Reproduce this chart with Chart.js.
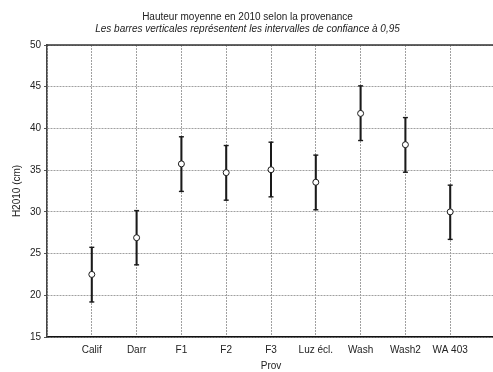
<!DOCTYPE html>
<html>
<head>
<meta charset="utf-8">
<script src="https://cdn.jsdelivr.net/npm/chart.js@4/dist/chart.umd.min.js"></script>
<style>
  html, body { margin: 0; padding: 0; background: #fff; overflow: hidden; }
  #wrap { width: 493px; height: 372px; overflow: hidden; }
</style>
</head>
<body>
<div id="wrap"><canvas id="c" width="495" height="372"></canvas></div>
<script>
// Mean height in 2010 per provenance, with 95% confidence limits
const categories = ['Calif', 'Darr', 'F1', 'F2', 'F3', 'Luz écl.', 'Wash', 'Wash2', 'WA 403'];
const means      = [22.5, 26.9, 35.75, 34.7, 35.05, 33.55, 41.8, 38.05, 30.0];
const lowerCI    = [19.2, 23.65, 32.45, 31.4, 31.8, 30.25, 38.55, 34.75, 26.7];
const upperCI    = [25.75, 30.15, 39.0, 37.95, 38.35, 36.8, 45.1, 41.3, 33.2];
const yTicks     = [15, 20, 25, 30, 35, 40, 45, 50];

const FONT = 'Liberation Sans, Arial, sans-serif';
Chart.defaults.font.family = FONT;
Chart.defaults.font.size = 10;
Chart.defaults.color = '#222';

const gridDash = [2, 1];

// outer frame line along the top of the plotting area
const frameTop = {
  id: 'frameTop',
  afterDraw(chart) {
    const { ctx, chartArea: a } = chart;
    ctx.save();
    ctx.strokeStyle = '#333';
    ctx.lineWidth = 1.5;
    ctx.beginPath();
    ctx.moveTo(a.left, a.top);
    ctx.lineTo(a.right, a.top);
    ctx.stroke();
    ctx.restore();
  }
};

new Chart(document.getElementById('c'), {
  data: {
    datasets: [
      {
        type: 'bar',
        data: categories.map((c, i) => ({ x: i, y: [lowerCI[i], upperCI[i]] })),
        backgroundColor: '#1a1a1a',
        barThickness: 1.4,
        order: 3
      },
      {
        type: 'scatter',
        data: categories.flatMap((c, i) => [{ x: i, y: lowerCI[i] }, { x: i, y: upperCI[i] }]),
        pointStyle: 'line',
        radius: 2.5,
        borderColor: '#1a1a1a',
        borderWidth: 1.4,
        order: 2
      },
      {
        type: 'scatter',
        data: categories.map((c, i) => ({ x: i, y: means[i] })),
        pointStyle: 'circle',
        radius: 3,
        backgroundColor: '#fff',
        borderColor: '#1a1a1a',
        borderWidth: 1,
        order: 1
      }
    ]
  },
  options: {
    responsive: false,
    animation: false,
    layout: { padding: 0, autoPadding: false },
    plugins: {
      legend: { display: false },
      tooltip: { enabled: false },
      title: {
        display: true,
        text: 'Hauteur moyenne en 2010 selon la provenance',
        font: { size: 10, weight: 'normal', family: FONT },
        color: '#222',
        padding: { top: 11, bottom: 0 }
      },
      subtitle: {
        display: true,
        text: 'Les barres verticales représentent les intervalles de confiance à 0,95',
        font: { size: 10, style: 'italic', family: FONT },
        color: '#222',
        padding: { top: 0, bottom: 10 }
      }
    },
    scales: {
      x: {
        type: 'linear',
        min: -1,
        max: 9,
        offset: false,
        afterFit(s) { s.height = 35; s.paddingLeft = 0; s.paddingRight = 0; },
        afterBuildTicks(s) {
          s.ticks = [-1, ...categories.map((c, i) => i), 9].map(v => ({ value: v }));
        },
        ticks: {
          autoSkip: false,
          maxRotation: 0,
          padding: 0,
          color: '#222',
          callback: v => categories[v] ?? ''
        },
        grid: {
          offset: false,
          color: '#a0a0a0',
          lineWidth: 1,
          drawTicks: true,
          tickLength: 7,
          tickColor: 'rgba(0,0,0,0)'
        },
        border: { display: true, color: '#111', width: 1.5, dash: gridDash },
        title: {
          display: true,
          text: 'Prov',
          color: '#222',
          font: { size: 10, family: FONT },
          padding: { top: 0, bottom: 0 }
        }
      },
      y: {
        type: 'linear',
        min: 15,
        max: 50,
        afterFit(s) { s.width = 47; },
        afterBuildTicks(s) { s.ticks = yTicks.map(v => ({ value: v })); },
        ticks: { padding: 3, color: '#222' },
        grid: {
          color: '#a0a0a0',
          lineWidth: 1,
          tickLength: 3,
          tickColor: '#555',
          tickBorderDash: []
        },
        border: { display: true, color: '#444', width: 1.5, dash: gridDash },
        title: {
          display: true,
          text: 'H2010 (cm)',
          color: '#222',
          font: { size: 10, family: FONT },
          padding: { top: 11, bottom: 0 }
        }
      }
    }
  },
  plugins: [frameTop]
});
</script>
</body>
</html>
